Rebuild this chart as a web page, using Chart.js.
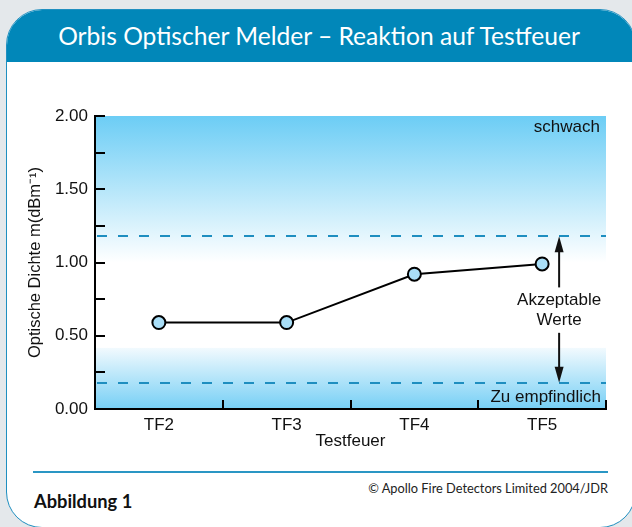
<!DOCTYPE html>
<html>
<head>
<meta charset="utf-8">
<script src="https://cdn.jsdelivr.net/npm/chart.js@4.4.1/dist/chart.umd.min.js"></script>
<style>
  html, body { margin: 0; padding: 0; background: #e4e8eb; width: 632px; height: 527px; overflow: hidden; }
  #card { position: absolute; left: 6px; top: 9px; width: 630px; height: 519px; box-sizing: border-box;
          background: #fff; border: 1.5px solid #1f8fc0; border-radius: 36px; overflow: hidden; }
  #head { position: absolute; left: 0; top: 0; right: 0; height: 52px; background: #0187b9; }
  #title { position: absolute; left: 0; top: 9px; width: 638px; height: 52px; line-height: 54px; text-align: center;
           font-family: Lato, "Open Sans", sans-serif; font-size: 24.6px; color: #fff; }
  #rule { position: absolute; left: 33px; top: 471px; width: 575px; height: 2px; background: #2a96c4; }
  #copy { position: absolute; right: 24px; top: 480px; font-family: Lato, sans-serif; font-size: 12.8px; color: #222; }
  #fig { position: absolute; left: 34px; top: 490px; font-family: Lato, sans-serif; font-weight: bold; font-size: 18.3px; color: #111; }
  canvas { position: absolute; left: 0; top: 0; }
</style>
</head>
<body>
<div id="card"><div id="head"></div></div>
<div id="title">Orbis Optischer Melder – Reaktion auf Testfeuer</div>
<div id="rule"></div>
<div id="copy">© Apollo Fire Detectors Limited 2004/JDR</div>
<div id="fig">Abbildung 1</div>
<canvas id="c" width="632" height="527"></canvas>
<script>
// ---- data ----
const categories = ['TF2', 'TF3', 'TF4', 'TF5'];
const density = [0.59, 0.59, 0.92, 0.99];
const yMin = 0;
const yMax = 2;
const yStep = 0.25;
const yLabelEvery = 0.5;
const limitValues = [1.18, 0.18];          // upper / lower threshold (dashed)
const zoneLabels = ['schwach', 'Akzeptable', 'Werte', 'Zu empfindlich'];
const xTitle = 'Testfeuer';
const yTitle = 'Optische Dichte m(dBm⁻¹)';

const FONT = '"Liberation Sans", Arial, sans-serif';

const decor = {
  id: 'decor',
  beforeDraw(chart) {
    const { ctx, chartArea: a, scales: { y } } = chart;
    const g = ctx.createLinearGradient(0, a.top, 0, a.bottom);
    const f = v => (y.getPixelForValue(v) - a.top) / (a.bottom - a.top);
    g.addColorStop(0, 'rgb(108,205,245)');
    g.addColorStop(f(1.0), 'rgb(255,255,255)');
    g.addColorStop(f(0.42), 'rgb(255,255,255)');
    g.addColorStop(f(0.42) + 0.001, 'rgb(242,250,254)');
    g.addColorStop(1, 'rgb(118,207,245)');
    ctx.save();
    ctx.fillStyle = g;
    ctx.fillRect(a.left, a.top, a.right - a.left, a.bottom - a.top);
    ctx.restore();
  },
  beforeDatasetsDraw(chart) {
    const { ctx, chartArea: a, scales: { y } } = chart;
    ctx.save();
    ctx.strokeStyle = '#1e8ec0';
    ctx.lineWidth = 2;
    ctx.setLineDash([10, 11]);
    limitValues.forEach(v => {
      const py = Math.round(y.getPixelForValue(v));
      ctx.beginPath();
      ctx.moveTo(a.left + 2, py);
      ctx.lineTo(a.right, py);
      ctx.stroke();
    });
    ctx.restore();
  },
  afterDatasetsDraw(chart) {
    const { ctx, chartArea: a, scales: { x, y } } = chart;
    ctx.save();
    ctx.fillStyle = '#111';
    ctx.font = '17px ' + FONT;
    ctx.textBaseline = 'middle';
    ctx.textAlign = 'right';
    ctx.fillText(zoneLabels[0], a.right - 6, y.getPixelForValue(1.92));
    ctx.fillText(zoneLabels[3], a.right - 5, y.getPixelForValue(0.08));
    const ax = x.getPixelForValue(3) + 17;
    ctx.textAlign = 'center';
    ctx.fillText(zoneLabels[1], ax, y.getPixelForValue(0.74));
    ctx.fillText(zoneLabels[2], ax, y.getPixelForValue(0.605));
    // arrows
    ctx.strokeStyle = '#111';
    ctx.lineWidth = 2;
    const arrow = (fromV, toV) => {
      const y0 = y.getPixelForValue(fromV), y1 = y.getPixelForValue(toV);
      const dir = Math.sign(y1 - y0);
      ctx.beginPath();
      ctx.moveTo(ax, y0);
      ctx.lineTo(ax, y1 - dir * 12);
      ctx.stroke();
      ctx.beginPath();
      ctx.moveTo(ax, y1);
      ctx.lineTo(ax - 4.5, y1 - dir * 16);
      ctx.lineTo(ax + 4.5, y1 - dir * 16);
      ctx.closePath();
      ctx.fill();
    };
    arrow(0.83, limitValues[0]);
    arrow(0.52, limitValues[1]);
    ctx.restore();
  }
};

new Chart(document.getElementById('c'), {
  type: 'line',
  data: {
    labels: categories,
    datasets: [{
      data: density,
      borderColor: '#000',
      borderWidth: 2,
      pointRadius: 6.5,
      pointBorderWidth: 2,
      pointBorderColor: '#000',
      pointBackgroundColor: '#a9def7',
      tension: 0,
      clip: false
    }]
  },
  options: {
    responsive: false,
    devicePixelRatio: 1,
    animation: false,
    events: [],
    layout: { padding: { left: 26, top: 116, right: 26, bottom: 75 } },
    plugins: { legend: { display: false }, tooltip: { enabled: false } },
    scales: {
      x: {
        type: 'category',
        offset: true,
        grid: { offset: true, drawOnChartArea: false, drawTicks: true, tickLength: -9, color: '#000', lineWidth: 2 },
        border: { display: true, color: '#000', width: 2 },
        ticks: { color: '#111', font: { family: FONT, size: 17 }, padding: 15, maxRotation: 0 },
        title: { display: true, text: xTitle, color: '#111', font: { family: FONT, size: 17 }, padding: 0 },
        afterFit(s) { s.height = 43; s.paddingLeft = 0; s.paddingRight = 0; }
      },
      y: {
        min: yMin, max: yMax,
        grid: { drawOnChartArea: false, drawTicks: true, tickLength: -10, color: '#000', lineWidth: 2 },
        border: { display: true, color: '#000', width: 2 },
        ticks: {
          stepSize: yStep,
          color: '#111',
          font: { family: FONT, size: 17 },
          padding: 17,
          callback: v => (Math.abs(v / yLabelEvery - Math.round(v / yLabelEvery)) < 1e-6 ? v.toFixed(2) : '')
        },
        title: { display: true, text: yTitle, color: '#111', font: { family: FONT, size: 16.5 }, padding: 0 },
        afterFit(s) { s.width = 69; s.paddingTop = 0; s.paddingBottom = 0; }
      }
    }
  },
  plugins: [decor]
});
</script>
</body>
</html>
